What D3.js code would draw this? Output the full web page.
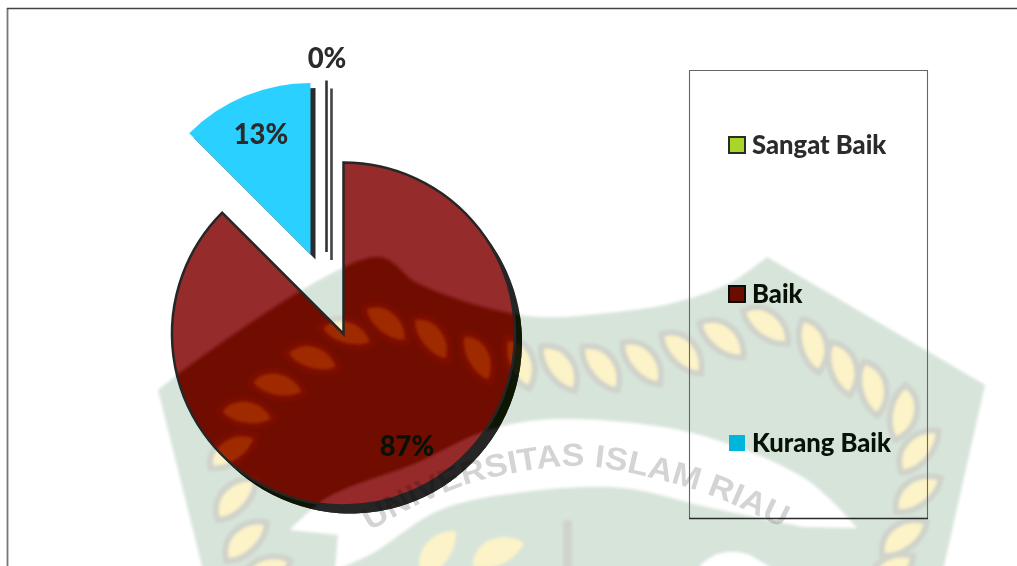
<!DOCTYPE html>
<html><head><meta charset="utf-8">
<script src="https://cdn.jsdelivr.net/npm/d3@7"></script>
<style>html,body{margin:0;padding:0;background:#fff}svg{display:block}text{font-family:Lato,"Open Sans",sans-serif;font-weight:900}</style>
</head><body><svg id="c" width="1017" height="566"></svg>
<script>
const categories = ["Sangat Baik", "Baik", "Kurang Baik"];
const values = [0, 87.5, 12.5];
const valueLabels = ["0%", "87%", "13%"];
const legendColors = ["#a8d52a", "#6a0c00", "#00b5dc"];
const legendStrokes = ["#2b2b2b", "#0c0c0c", "none"];

const W = 1017, H = 566, R = 171.5, CX = 343.5, CY = 334;
const sliceOffsetX = [-17, 0, -33], sliceOffsetY = [-82, 0, -79.5];
const shadowX = [5, 7, 5], shadowY = [6, 8, 5];
const labelX = [327, 407, 261], labelY = [58, 446, 134];
const labelFill = ["#2b2b2b", "#071205", "#2b2b2b"];

const svg = d3.select("#c");
const defs = svg.append("defs");
defs.append("filter").attr("id", "soft").attr("x", "-5%").attr("y", "-5%").attr("width", "110%").attr("height", "110%")
  .append("feGaussianBlur").attr("stdDeviation", 1.8);
defs.append("filter").attr("id", "softText").attr("x", "-5%").attr("y", "-10%").attr("width", "110%").attr("height", "120%")
  .append("feGaussianBlur").attr("stdDeviation", 0.7);

// Watermark geometry (background emblem, not chart data)
const shieldTop = [[177,375],[377,257],[417,283],[483,307],[540,317],[607,313],[673,303],[730,283],[767,257]];
const band = [[290,530],[327,498],[417,463],[483,432],[540,420],[623,422],[707,437],[807,480],[857,528]];
const bandLow = [[803,527],[707,507],[623,488],[523,492],[440,510],[373,553],[345,566]];
const leaves = [[232,450,-35],[247,413,7],[278,385,10],[313,358,15],[347,333,15],[387,323,38],[432,338,50],[478,357,60],[520,362,65],
  [560,367,52],[602,367,50],[643,362,47],[683,352,44],[723,338,37],[767,325,35],[813,345,72],[843,368,70],[873,388,75],[903,413,100],
  [918,450,-50],[917,493,-38],[903,537,-38],[235,498,-48],[245,540,-45],[265,572,-30],[890,572,-40]];
const innerLeaves = [[437,552,-55],[497,552,-25]];
const wmTextPath = [[370,531],[430,499],[490,478],[580,466],[660,480],[720,499],[795,534]];
const smooth = d3.line().curve(d3.curveCatmullRom.alpha(0.5));

function watermark(parent, p) {
  const g = parent.append("g").attr("filter", "url(#soft)");
  const top = smooth(shieldTop);
  g.append("path").attr("fill", p.green)
    .attr("d", "M158,390L" + top.slice(1) + "L985,385L943,570L203,570Z");
  const lens = "M-28,2C-16,-20 14,-18 28,3C14,16 -14,16 -28,2Z";
  g.selectAll(".lf").data(leaves).join("path")
    .attr("transform", d => `translate(${d[0]},${d[1]}) rotate(${d[2]})`)
    .attr("d", lens).attr("fill", p.leaf).attr("stroke", p.ring).attr("stroke-width", 6);
  g.selectAll(".il").data(innerLeaves).join("path")
    .attr("transform", d => `translate(${d[0]},${d[1]}) rotate(${d[2]})`)
    .attr("d", lens).attr("fill", p.leaf);
  g.append("path").attr("fill", p.base)
    .attr("d", smooth(band) + "L" + smooth(bandLow).slice(1) + "L335,570L338,535Z");
  g.append("path").attr("fill", p.base).attr("d", "M700,566Q720,545 750,555L775,570L700,570Z");
  g.append("rect").attr("x", 563).attr("y", 520).attr("width", 9).attr("height", 50).attr("rx", 4).attr("fill", p.ring);
}

const plain = {base:"#ffffff", green:"#d7e4da", leaf:"#fdf3c8", ring:"#cfd3cb"};
const redP  = {base:"#962b2b", green:"#6f0c00", leaf:"#a02a00", ring:"#7b1000"};
const darkP = {base:"#262626", green:"#0a1505", leaf:"#1d1d08", ring:"#0f1508"};

watermark(svg, plain);

// Frame
svg.append("path").attr("d", "M7.5,566V8").attr("fill", "none").attr("stroke", "#777").attr("stroke-width", 1.8);
svg.append("path").attr("d", "M7,8.5H1017").attr("fill", "none").attr("stroke", "#444").attr("stroke-width", 1.3);

// Pie
const pie = d3.pie().sort(null).startAngle(0).endAngle(2 * Math.PI);
const arcs = pie(values);
const arc = d3.arc().innerRadius(0).outerRadius(R);

function at(i, dx, dy) { return `translate(${CX + sliceOffsetX[i] + dx},${CY + sliceOffsetY[i] + dy})`; }

const baik = arcs[1];
defs.append("clipPath").attr("id", "clipShadow").append("path").attr("d", arc(baik)).attr("transform", at(1, shadowX[1], shadowY[1]));
defs.append("clipPath").attr("id", "clipBody").append("path").attr("d", arc(baik)).attr("transform", at(1, 0, 0));

const shadowLayer = svg.append("g").attr("clip-path", "url(#clipShadow)");
shadowLayer.append("rect").attr("width", W).attr("height", H).attr("fill", darkP.base);
watermark(shadowLayer, darkP);
const bodyLayer = svg.append("g").attr("clip-path", "url(#clipBody)");
bodyLayer.append("rect").attr("width", W).attr("height", H).attr("fill", redP.base);
watermark(bodyLayer, redP);
svg.append("path").attr("d", arc(baik)).attr("transform", at(1, 0, 0)).attr("fill", "none")
  .attr("stroke", "#262626").attr("stroke-width", 2.5).attr("stroke-linejoin", "miter");

// small slice
svg.append("path").attr("d", arc(arcs[2])).attr("transform", at(2, shadowX[2], shadowY[2])).attr("fill", "#2b2b2b");
svg.append("path").attr("d", arc(arcs[2])).attr("transform", at(2, 0, 0)).attr("fill", "#2ad0ff");

// zero slice: a bare line
svg.append("path").attr("d", arc(arcs[0])).attr("transform", at(0, shadowX[0], shadowY[0]+2)).attr("fill", "none").attr("stroke", "#444").attr("stroke-width", 2.6);
svg.append("path").attr("d", arc(arcs[0])).attr("transform", at(0, 0, 0)).attr("fill", "none").attr("stroke", "#333").attr("stroke-width", 2.6);

// Emblem lettering: a single text multiplied over everything beneath it
defs.append("path").attr("id", "wmArc").attr("d", smooth(wmTextPath));
svg.append("text").attr("font-size", 32).attr("fill", "#d4d4d4").attr("filter", "url(#softText)")
  .style("font-family", "Liberation Sans").style("font-weight", 700).style("mix-blend-mode", "multiply")
  .append("textPath").attr("href", "#wmArc").attr("textLength", 436).attr("lengthAdjust", "spacingAndGlyphs").text("UNIVERSITAS ISLAM RIAU");

// Value labels
svg.selectAll(".vl").data(valueLabels).join("text").attr("class", "vl")
  .attr("x", (d, i) => labelX[i]).attr("y", (d, i) => labelY[i])
  .attr("text-anchor", "middle").attr("dy", "0.35em").attr("font-size", 27.5)
  .attr("fill", (d, i) => labelFill[i]).text(d => d);

// Legend
svg.append("path").attr("d", "M689.5,518.5V70.5H927.5V518.5").attr("fill", "none").attr("stroke", "#666").attr("stroke-width", 1.1);
svg.append("path").attr("d", "M689,518.5H928").attr("fill", "none").attr("stroke", "#2b2b2b").attr("stroke-width", 1.3);
const legendY = d3.scalePoint().domain(categories).range([145, 443]);
const lg = svg.selectAll(".lg").data(categories).join("g").attr("class", "lg")
  .attr("transform", d => `translate(729,${legendY(d)})`);
lg.append("rect").attr("x", 0).attr("y", -8).attr("width", 16).attr("height", 16)
  .attr("fill", (d, i) => legendColors[i]).attr("stroke", (d, i) => legendStrokes[i]).attr("stroke-width", 2);
lg.append("text").attr("x", 23).attr("dy", "0.35em").attr("font-size", 25.6)
  .attr("fill", (d, i) => i === 0 ? "#2b2b2b" : "#071205").text(d => d);
</script></body></html>
